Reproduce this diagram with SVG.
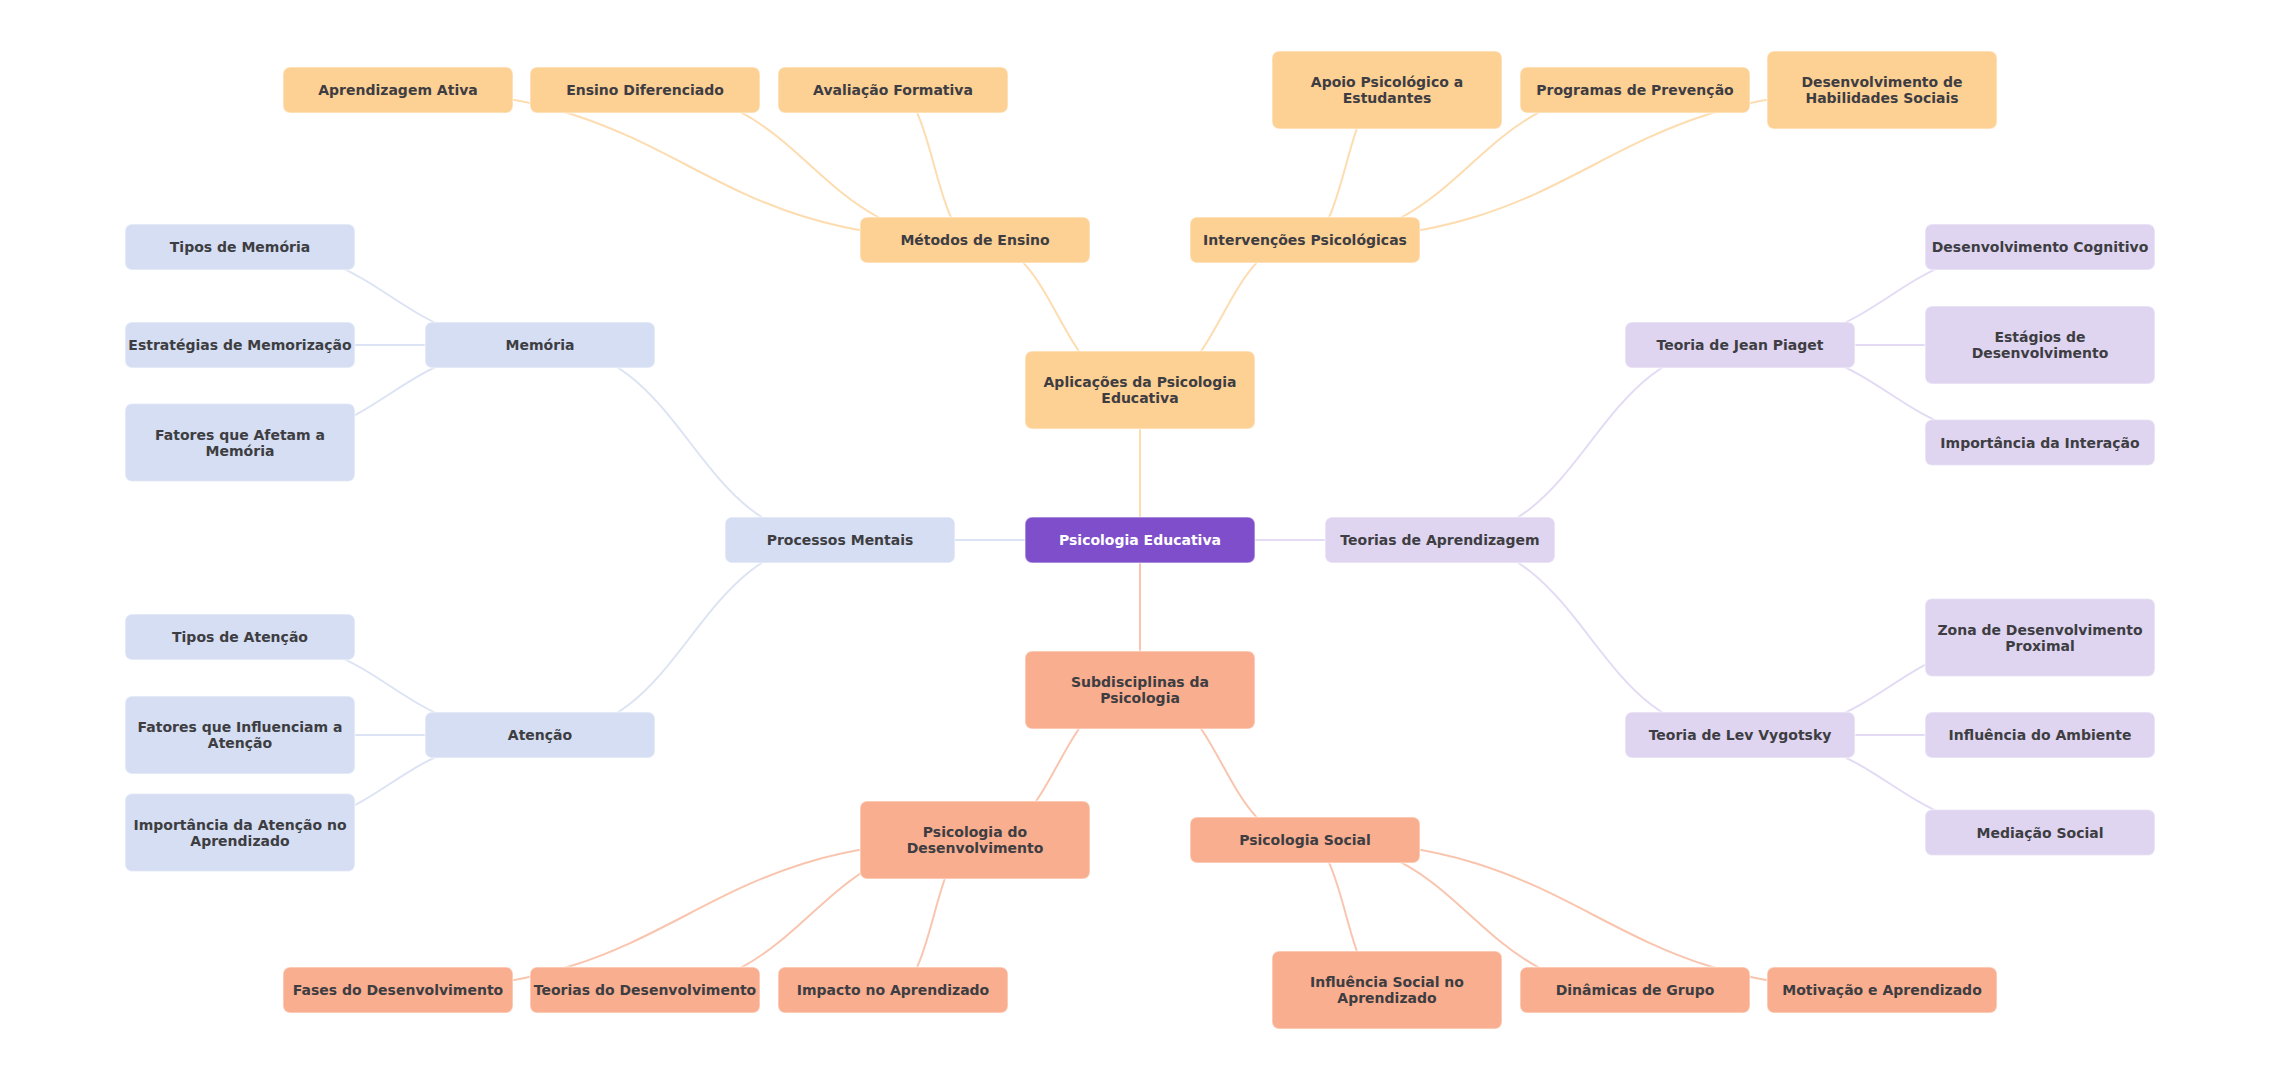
<svg xmlns="http://www.w3.org/2000/svg" width="2280" height="1080" viewBox="0 0 2280 1080">
<style>
  .c { fill: none; stroke-width: 2; }
  .co { stroke: #FDDCB0; }
  .cs { stroke: #F9C5AF; }
  .cb { stroke: #DCE3F4; }
  .cl { stroke: #E3DBF4; }
  rect { stroke: #ffffff; stroke-opacity: 0.45; stroke-width: 1.5; }
  .root rect { fill: #7F4FCB; }
  .o rect { fill: #FDD094; }
  .s rect { fill: #F9AE8F; }
  .b rect { fill: #D5DEF2; }
  .l rect { fill: #DFD5F1; }
  text { font-family: "DejaVu Sans", "Liberation Sans", sans-serif; font-weight: bold; font-size: 14px; fill: #3D3D42; text-anchor: middle; }
  .root text { fill: #ffffff; }
</style>
<rect x="0" y="0" width="2280" height="1080" fill="#ffffff" stroke="none"/>
<g id="connectors">
  <!-- root -->
  <path class="c co" d="M1140 540 L1140 390"/>
  <path class="c cs" d="M1140 540 L1140 690"/>
  <path class="c cb" d="M1140 540 L840 540"/>
  <path class="c cl" d="M1140 540 L1440 540"/>
  <!-- Aplicações -->
  <path class="c co" d="M1140 390 C1057.5 390 1057.5 240 975 240"/>
  <path class="c co" d="M1140 390 C1222.5 390 1222.5 240 1305 240"/>
  <path class="c co" d="M975 240 C686.5 240 686.5 90 398 90"/>
  <path class="c co" d="M975 240 C810 240 810 90 645 90"/>
  <path class="c co" d="M975 240 C934 240 934 90 893 90"/>
  <path class="c co" d="M1305 240 C1346 240 1346 90 1387 90"/>
  <path class="c co" d="M1305 240 C1470 240 1470 90 1635 90"/>
  <path class="c co" d="M1305 240 C1593.5 240 1593.5 90 1882 90"/>
  <!-- Subdisciplinas -->
  <path class="c cs" d="M1140 690 C1057.5 690 1057.5 840 975 840"/>
  <path class="c cs" d="M1140 690 C1222.5 690 1222.5 840 1305 840"/>
  <path class="c cs" d="M975 840 C686.5 840 686.5 990 398 990"/>
  <path class="c cs" d="M975 840 C810 840 810 990 645 990"/>
  <path class="c cs" d="M975 840 C934 840 934 990 893 990"/>
  <path class="c cs" d="M1305 840 C1346 840 1346 990 1387 990"/>
  <path class="c cs" d="M1305 840 C1470 840 1470 990 1635 990"/>
  <path class="c cs" d="M1305 840 C1593.5 840 1593.5 990 1882 990"/>
  <!-- Processos Mentais -->
  <path class="c cb" d="M840 540 C690 540 690 345 540 345"/>
  <path class="c cb" d="M840 540 C690 540 690 735 540 735"/>
  <path class="c cb" d="M540 345 C390 345 390 247 240 247"/>
  <path class="c cb" d="M540 345 L240 345"/>
  <path class="c cb" d="M540 345 C390 345 390 442.5 240 442.5"/>
  <path class="c cb" d="M540 735 C390 735 390 637 240 637"/>
  <path class="c cb" d="M540 735 L240 735"/>
  <path class="c cb" d="M540 735 C390 735 390 832.5 240 832.5"/>
  <!-- Teorias de Aprendizagem -->
  <path class="c cl" d="M1440 540 C1590 540 1590 345 1740 345"/>
  <path class="c cl" d="M1440 540 C1590 540 1590 735 1740 735"/>
  <path class="c cl" d="M1740 345 C1890 345 1890 247 2040 247"/>
  <path class="c cl" d="M1740 345 L2040 345"/>
  <path class="c cl" d="M1740 345 C1890 345 1890 442.5 2040 442.5"/>
  <path class="c cl" d="M1740 735 C1890 735 1890 637.5 2040 637.5"/>
  <path class="c cl" d="M1740 735 L2040 735"/>
  <path class="c cl" d="M1740 735 C1890 735 1890 832.5 2040 832.5"/>
</g>

<g id="root" class="root"><rect x="1025" y="517" width="230" height="46" rx="7"/><text x="1140" y="545">Psicologia Educativa</text></g>

<g id="aplicacoes" class="o"><rect x="1025" y="351" width="230" height="78" rx="7"/><text x="1140" y="387">Aplicações da Psicologia</text><text x="1140" y="403">Educativa</text></g>
<g id="metodos" class="o"><rect x="860" y="217" width="230" height="46" rx="7"/><text x="975" y="245">Métodos de Ensino</text></g>
<g id="intervencoes" class="o"><rect x="1190" y="217" width="230" height="46" rx="7"/><text x="1305" y="245">Intervenções Psicológicas</text></g>
<g id="aprendizagem-ativa" class="o"><rect x="283" y="67" width="230" height="46" rx="7"/><text x="398" y="95">Aprendizagem Ativa</text></g>
<g id="ensino-diferenciado" class="o"><rect x="530" y="67" width="230" height="46" rx="7"/><text x="645" y="95">Ensino Diferenciado</text></g>
<g id="avaliacao-formativa" class="o"><rect x="778" y="67" width="230" height="46" rx="7"/><text x="893" y="95">Avaliação Formativa</text></g>
<g id="apoio" class="o"><rect x="1272" y="51" width="230" height="78" rx="7"/><text x="1387" y="87">Apoio Psicológico a</text><text x="1387" y="103">Estudantes</text></g>
<g id="programas" class="o"><rect x="1520" y="67" width="230" height="46" rx="7"/><text x="1635" y="95">Programas de Prevenção</text></g>
<g id="habilidades" class="o"><rect x="1767" y="51" width="230" height="78" rx="7"/><text x="1882" y="87">Desenvolvimento de</text><text x="1882" y="103">Habilidades Sociais</text></g>

<g id="subdisciplinas" class="s"><rect x="1025" y="651" width="230" height="78" rx="7"/><text x="1140" y="687">Subdisciplinas da</text><text x="1140" y="703">Psicologia</text></g>
<g id="psic-desenvolvimento" class="s"><rect x="860" y="801" width="230" height="78" rx="7"/><text x="975" y="837">Psicologia do</text><text x="975" y="853">Desenvolvimento</text></g>
<g id="psic-social" class="s"><rect x="1190" y="817" width="230" height="46" rx="7"/><text x="1305" y="845">Psicologia Social</text></g>
<g id="fases" class="s"><rect x="283" y="967" width="230" height="46" rx="7"/><text x="398" y="995">Fases do Desenvolvimento</text></g>
<g id="teorias-desenv" class="s"><rect x="530" y="967" width="230" height="46" rx="7"/><text x="645" y="995">Teorias do Desenvolvimento</text></g>
<g id="impacto" class="s"><rect x="778" y="967" width="230" height="46" rx="7"/><text x="893" y="995">Impacto no Aprendizado</text></g>
<g id="influencia-social" class="s"><rect x="1272" y="951" width="230" height="78" rx="7"/><text x="1387" y="987">Influência Social no</text><text x="1387" y="1003">Aprendizado</text></g>
<g id="dinamicas" class="s"><rect x="1520" y="967" width="230" height="46" rx="7"/><text x="1635" y="995">Dinâmicas de Grupo</text></g>
<g id="motivacao" class="s"><rect x="1767" y="967" width="230" height="46" rx="7"/><text x="1882" y="995">Motivação e Aprendizado</text></g>

<g id="processos" class="b"><rect x="725" y="517" width="230" height="46" rx="7"/><text x="840" y="545">Processos Mentais</text></g>
<g id="memoria" class="b"><rect x="425" y="322" width="230" height="46" rx="7"/><text x="540" y="350">Memória</text></g>
<g id="atencao" class="b"><rect x="425" y="712" width="230" height="46" rx="7"/><text x="540" y="740">Atenção</text></g>
<g id="tipos-memoria" class="b"><rect x="125" y="224" width="230" height="46" rx="7"/><text x="240" y="252">Tipos de Memória</text></g>
<g id="estrategias" class="b"><rect x="125" y="322" width="230" height="46" rx="7"/><text x="240" y="350">Estratégias de Memorização</text></g>
<g id="fatores-memoria" class="b"><rect x="125" y="403.5" width="230" height="78" rx="7"/><text x="240" y="439.5">Fatores que Afetam a</text><text x="240" y="455.5">Memória</text></g>
<g id="tipos-atencao" class="b"><rect x="125" y="614" width="230" height="46" rx="7"/><text x="240" y="642">Tipos de Atenção</text></g>
<g id="fatores-atencao" class="b"><rect x="125" y="696" width="230" height="78" rx="7"/><text x="240" y="732">Fatores que Influenciam a</text><text x="240" y="748">Atenção</text></g>
<g id="importancia-atencao" class="b"><rect x="125" y="793.5" width="230" height="78" rx="7"/><text x="240" y="829.5">Importância da Atenção no</text><text x="240" y="845.5">Aprendizado</text></g>

<g id="teorias" class="l"><rect x="1325" y="517" width="230" height="46" rx="7"/><text x="1440" y="545">Teorias de Aprendizagem</text></g>
<g id="piaget" class="l"><rect x="1625" y="322" width="230" height="46" rx="7"/><text x="1740" y="350">Teoria de Jean Piaget</text></g>
<g id="vygotsky" class="l"><rect x="1625" y="712" width="230" height="46" rx="7"/><text x="1740" y="740">Teoria de Lev Vygotsky</text></g>
<g id="desenv-cognitivo" class="l"><rect x="1925" y="224" width="230" height="46" rx="7"/><text x="2040" y="252">Desenvolvimento Cognitivo</text></g>
<g id="estagios" class="l"><rect x="1925" y="306" width="230" height="78" rx="7"/><text x="2040" y="342">Estágios de</text><text x="2040" y="358">Desenvolvimento</text></g>
<g id="importancia-interacao" class="l"><rect x="1925" y="419.5" width="230" height="46" rx="7"/><text x="2040" y="447.5">Importância da Interação</text></g>
<g id="zona" class="l"><rect x="1925" y="598.5" width="230" height="78" rx="7"/><text x="2040" y="634.5">Zona de Desenvolvimento</text><text x="2040" y="650.5">Proximal</text></g>
<g id="ambiente" class="l"><rect x="1925" y="712" width="230" height="46" rx="7"/><text x="2040" y="740">Influência do Ambiente</text></g>
<g id="mediacao" class="l"><rect x="1925" y="809.5" width="230" height="46" rx="7"/><text x="2040" y="837.5">Mediação Social</text></g>
</svg>
